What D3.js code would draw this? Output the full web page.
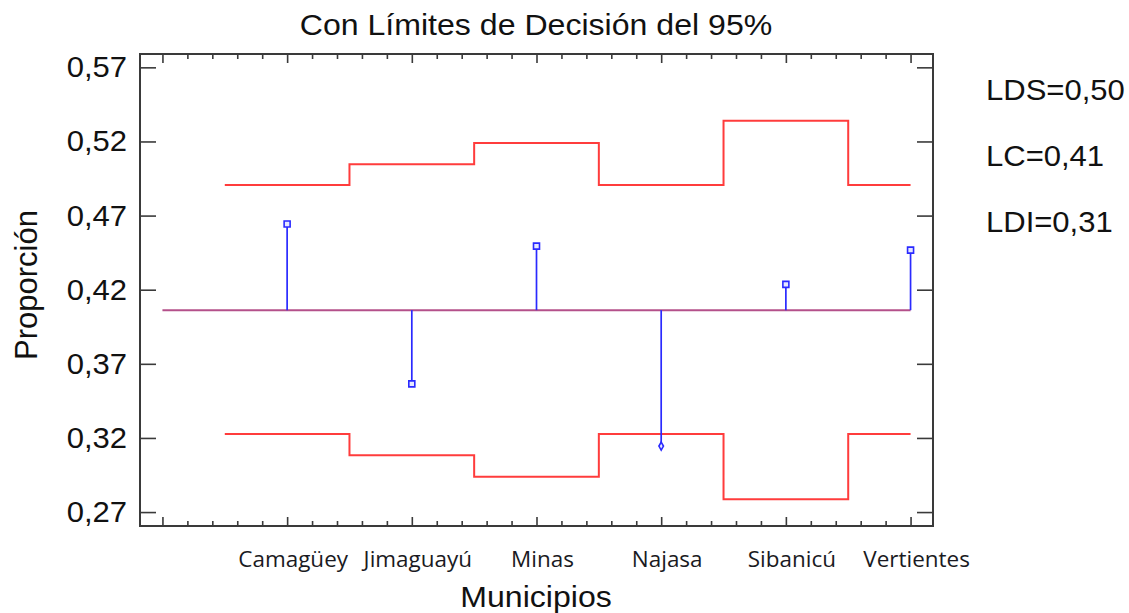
<!DOCTYPE html>
<html>
<head>
<meta charset="utf-8">
<script src="https://cdn.jsdelivr.net/npm/d3@7"></script>
<style>
  body { margin: 0; background: #fff; }
  svg { display: block; }
  .frame { fill: none; stroke: #3a3a3a; stroke-width: 2; }
  .tick line { stroke: #3a3a3a; stroke-width: 1.6; }
  .axis .domain { display: none; }
  .sans { font-family: "Liberation Sans", Arial, sans-serif; fill: #111; }
  .cat { font-family: "Open Sans", "Noto Sans", sans-serif; fill: #1a1a22; }
</style>
</head>
<body>
<div class="chart"></div>
<script>
"use strict";
// data
var categories = ["Camagüey", "Jimaguayú", "Minas", "Najasa", "Sibanicú", "Vertientes"];
var proportions = [0.4643, 0.3565, 0.4494, 0.3145, 0.4236, 0.4467];
var upperLimits = [0.4906, 0.5047, 0.5190, 0.4906, 0.5340, 0.4906];
var lowerLimits = [0.3226, 0.3084, 0.2938, 0.3226, 0.2787, 0.3226];
var centerLine = 0.4062;
var yTicks = [0.27, 0.32, 0.37, 0.42, 0.47, 0.52, 0.57];
var legendLines = ["LDS=0,50", "LC=0,41", "LDI=0,31"];
var chartTitle = "Con Límites de Decisión del 95%";
var xTitle = "Municipios";
var yTitle = "Proporción";

var W = 1129, H = 613;
var plot = {left: 140, right: 933, top: 54, bottom: 526};
var sx = 1.07; // the source picture is slightly stretched sideways

var svg = d3.select(".chart").append("svg")
    .attr("width", W)
    .attr("height", H);

//scales
var x = d3.scaleLinear()
    .domain([-0.18, categories.length + 0.18])
    .range([plot.left, plot.right]);
var y = d3.scaleLinear()
    .domain([0.2606, 0.5790])
    .range([plot.bottom, plot.top]);

var majorX = d3.range(0, categories.length + 1);
var minorX = d3.range(0, categories.length * 5 + 1)
    .map(function(i){ return i / 5; })
    .filter(function(v){ return Math.abs(v - Math.round(v)) > 1e-6; });

//helper for stretched text
function stretchedText(g, str, tx, ty, cls, size, anchor) {
  return g.append("g")
    .attr("transform", "translate(" + tx + "," + ty + ") scale(" + sx + ",1)")
    .append("text")
    .attr("class", cls)
    .style("font-size", size + "px")
    .attr("text-anchor", anchor || "start")
    .text(str);
}

//axes (ticks pointing inwards)
svg.append("g").attr("class", "axis")
    .attr("transform", "translate(" + plot.left + ",0)")
    .call(d3.axisLeft(y).tickValues(yTicks).tickSizeInner(-16).tickSizeOuter(0).tickFormat(""));
svg.append("g").attr("class", "axis")
    .attr("transform", "translate(" + plot.right + ",0)")
    .call(d3.axisRight(y).tickValues(yTicks).tickSizeInner(-16).tickSizeOuter(0).tickFormat(""));

[["top", plot.top, d3.axisTop], ["bottom", plot.bottom, d3.axisBottom]].forEach(function(a){
  svg.append("g").attr("class", "axis")
    .attr("transform", "translate(0," + a[1] + ")")
    .call(a[2](x).tickValues(majorX).tickSizeInner(-9).tickSizeOuter(0).tickFormat(""));
  svg.append("g").attr("class", "axis")
    .attr("transform", "translate(0," + a[1] + ")")
    .call(a[2](x).tickValues(minorX).tickSizeInner(-5).tickSizeOuter(0).tickFormat(""));
});

svg.append("rect").attr("class", "frame")
    .attr("x", plot.left).attr("y", plot.top)
    .attr("width", plot.right - plot.left)
    .attr("height", plot.bottom - plot.top);

//y tick labels
yTicks.forEach(function(v){
  stretchedText(svg, d3.format(".2f")(v).replace(".", ","), plot.left - 13, y(v) + 10, "sans", 29, "end");
});

//category labels (slightly right of the tick, as in the source)
categories.forEach(function(c, i){
  stretchedText(svg, c, x(i + 1) + 6, 567, "cat", 21, "middle");
});

//limit step lines
var stepLine = d3.line()
    .x(function(d){ return x(d[0]); })
    .y(function(d){ return y(d[1]); })
    .curve(d3.curveStepAfter);
function stepData(vals) {
  var pts = vals.map(function(v, i){ return [i + 0.5, v]; });
  pts.push([categories.length, vals[vals.length - 1]]);
  return pts;
}
[upperLimits, lowerLimits].forEach(function(vals){
  svg.append("path")
    .attr("d", stepLine(stepData(vals)))
    .attr("fill", "none")
    .attr("stroke", "#ff3c3c")
    .attr("stroke-width", 2);
});

//centre line
svg.append("line")
    .attr("x1", x(0)).attr("x2", x(categories.length))
    .attr("y1", y(centerLine)).attr("y2", y(centerLine))
    .attr("stroke", "#b4508a")
    .attr("stroke-width", 2);

//stems
var pts = svg.selectAll(".pt")
    .data(proportions)
    .enter().append("g")
    .attr("class", "pt");
pts.append("line")
    .attr("x1", function(d, i){ return x(i + 1); })
    .attr("x2", function(d, i){ return x(i + 1); })
    .attr("y1", y(centerLine))
    .attr("y2", function(d){ return y(d); })
    .attr("stroke", "#2a2aff")
    .attr("stroke-width", 1.7);
pts.append("path")
    .attr("transform", function(d, i){ return "translate(" + x(i + 1) + "," + y(d) + ")"; })
    .attr("d", function(d, i){
      var out = d < lowerLimits[i] || d > upperLimits[i];
      return out ? d3.symbol().type(d3.symbolDiamond).size(18)() : d3.symbol().type(d3.symbolSquare).size(36)();
    })
    .attr("fill", "#e6e8ff")
    .attr("stroke", "#2a2aff")
    .attr("stroke-width", 1.6);

//titles
stretchedText(svg, chartTitle, 536, 35, "sans", 30, "middle");
stretchedText(svg, xTitle, 536, 607, "sans", 30, "middle");
svg.append("text")
    .attr("class", "sans")
    .style("font-size", "31px")
    .attr("text-anchor", "middle")
    .attr("transform", "translate(37," + 285 + ") rotate(-90)")
    .text(yTitle);

//legend
legendLines.forEach(function(t, i){
  stretchedText(svg, t, 986, 100 + i * 66, "sans", 29, "start");
});
</script>
</body>
</html>
